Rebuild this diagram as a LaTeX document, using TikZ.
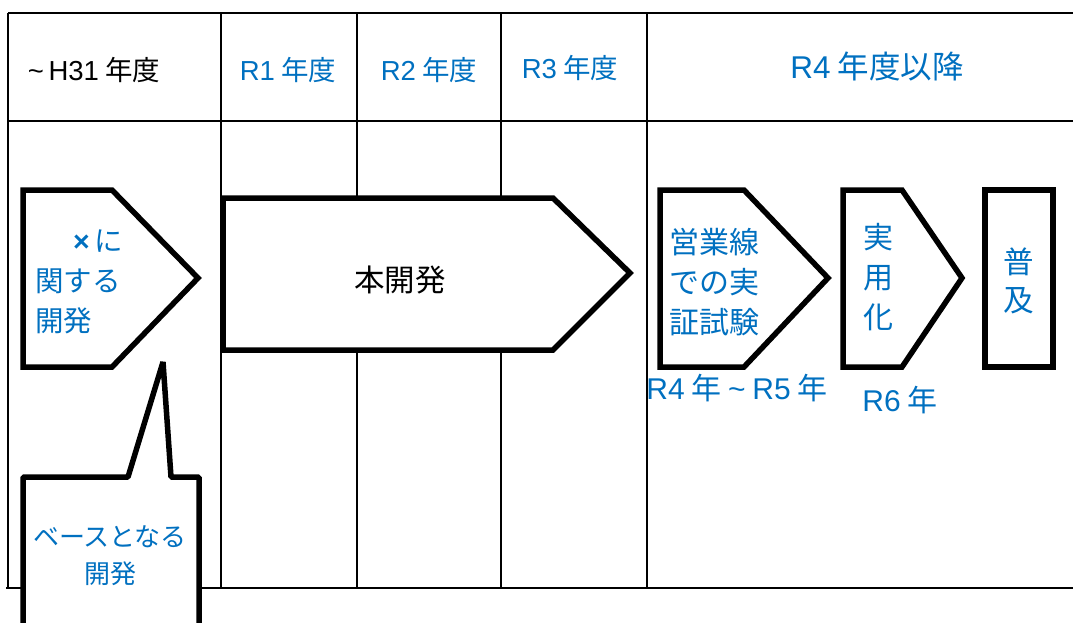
\documentclass[tikz,border=0pt]{standalone}
\usepackage{fontspec}
\setmainfont{Noto Sans CJK JP}
\newfontfamily\lat{Liberation Sans}
\definecolor{jblue}{HTML}{0070C0}
\newcommand{\tld}{{\lat\char"7E}}
\begin{document}
\begin{tikzpicture}[x=1pt,y=-1pt,
  grid/.style={line width=1.6pt,black},
  shp/.style={line width=5.5pt,draw=black,fill=white,line join=miter},
  txt/.style={font=\fontsize{27.5}{40}\selectfont,inner sep=0pt},
  big/.style={font=\fontsize{30}{40}\selectfont},
  btxt/.style={txt,text=jblue},
  ktxt/.style={txt,text=black}]
\useasboundingbox (0,0) rectangle (1073,622);
% table
\draw[grid] (8,13) -- (1073,13);
\draw[grid] (8,121) -- (1073,121);
\draw[grid] (6,588) -- (1073,588);
\foreach \x in {8,221,357,501,647} \draw[grid] (\x,13) -- (\x,588);
% header
\node[ktxt] (h0) at (94,70) {\tld\,{\lat H31} 年度};
\node[btxt] (h1) at (288,70) {{\lat R1} 年度};
\node[btxt] (h2) at (429,70) {{\lat R2} 年度};
\node[btxt] (h3) at (570,68) {{\lat R3} 年度};
\node[btxt,font=\fontsize{31.5}{40}\selectfont] (h4) at (877,67) {{\lat R4} 年度以降};
% shapes
\draw[shp] (23,190) -- (112,190) -- (198,278) -- (112,367) -- (23,367) -- cycle;
\draw[shp,line join=bevel] (23,477) -- (128,477) -- (163,362) -- (171,477) -- (199,477) -- (199,640) -- (23,640) -- cycle;
\draw[shp] (223,198) -- (553,198) -- (630,273) -- (553,350) -- (223,350) -- cycle;
\draw[shp] (660,190) -- (744,190) -- (828,278) -- (744,367) -- (660,367) -- cycle;
\draw[shp] (843,190) -- (902,190) -- (962,278) -- (902,367) -- (843,367) -- cycle;
\draw[shp] (985,190) rectangle (1053,367);
% texts
\node[btxt,align=left,anchor=west,font=\fontsize{28.5}{40}\selectfont] (t1) at (35,282) {\hspace*{38pt}{\lat\bfseries ×}\,に\\関する\\開発};
\node[btxt,align=center,font=\fontsize{26}{37}\selectfont] (t2) at (110,556) {ベースとなる\\開発};
\node[ktxt,font=\fontsize{30.5}{40}\selectfont] (t3) at (400,280) {本開発};
\node[btxt,big,align=center] (t4) at (714,282) {営業線\\での実\\証試験};
\node[btxt,big,align=center] (t5) at (878,277) {実\\用\\化};
\node[btxt,align=center,font=\fontsize{30.5}{38}\selectfont] (t6) at (1019,281) {普\\及};
\node[btxt,big] (l1) at (737,388) {{\lat R4} 年 \tld\ {\lat R5} 年};
\node[btxt,big] (l2) at (900,400) {{\lat R6} 年};
\end{tikzpicture}
\end{document}
